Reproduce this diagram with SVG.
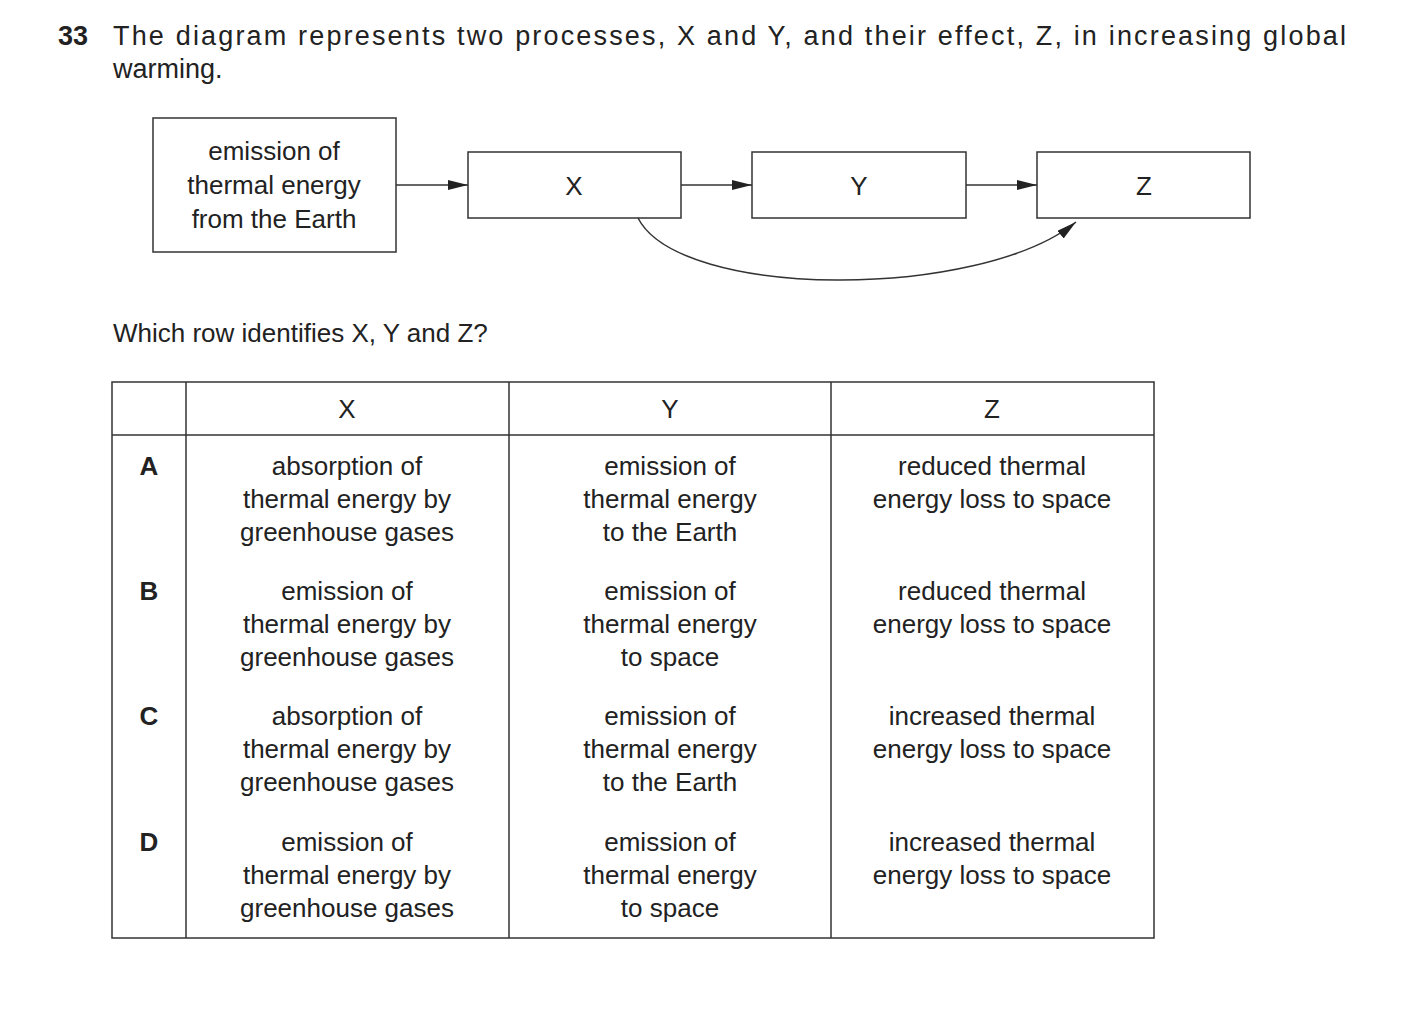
<svg xmlns="http://www.w3.org/2000/svg" width="1403" height="1031" viewBox="0 0 1403 1031">
<style>
text{font-family:"Liberation Sans",Arial,sans-serif;font-size:26px;fill:#222}
.c{text-anchor:middle}
.b{font-weight:bold}
.box{fill:#fff;stroke:#333;stroke-width:1.5}
.ln{stroke:#333;stroke-width:1.5;fill:none}
</style>
<defs><marker id="ah" viewBox="0 0 20 10" refX="20" refY="5" markerWidth="20" markerHeight="10" markerUnits="userSpaceOnUse" orient="auto"><path d="M0,0L20,5L0,10z" fill="#222"/></marker></defs>
<rect width="1403" height="1031" fill="#fff"/>
<text x="58" y="45" class="b" style="font-size:27px">33</text>
<text x="113" y="45" style="font-size:27px" textLength="1233" lengthAdjust="spacing">The diagram represents two processes, X and Y, and their effect, Z, in increasing global</text>
<text x="113" y="78" style="font-size:27px">warming.</text>
<g id="n0"><rect class="box" x="153" y="118" width="243" height="134"/>
<text x="274" y="160" class="c">emission of</text><text x="274" y="194" class="c">thermal energy</text><text x="274" y="228" class="c">from the Earth</text></g>
<g id="nX"><rect class="box" x="468" y="152" width="213" height="66"/><text x="574" y="195" class="c">X</text></g>
<g id="nY"><rect class="box" x="752" y="152" width="214" height="66"/><text x="859" y="195" class="c">Y</text></g>
<g id="nZ"><rect class="box" x="1037" y="152" width="213" height="66"/><text x="1144" y="195" class="c">Z</text></g>
<g id="connectors">
<line class="ln" x1="396" y1="185" x2="468" y2="185" marker-end="url(#ah)"/>
<line class="ln" x1="681" y1="185" x2="752" y2="185" marker-end="url(#ah)"/>
<line class="ln" x1="966" y1="185" x2="1037" y2="185" marker-end="url(#ah)"/>
<path class="ln" d="M638,218 C680,300 980,300 1076,222" marker-end="url(#ah)"/>
</g>
<text x="113" y="342">Which row identifies X, Y and Z?</text>
<g id="table">
<rect class="ln" x="112" y="382" width="1042" height="556"/>
<line class="ln" x1="186" y1="382" x2="186" y2="938"/>
<line class="ln" x1="509" y1="382" x2="509" y2="938"/>
<line class="ln" x1="831" y1="382" x2="831" y2="938"/>
<line class="ln" x1="112" y1="435" x2="1154" y2="435"/>
<text x="347" y="418" class="c">X</text><text x="670" y="418" class="c">Y</text><text x="992" y="418" class="c">Z</text>
<g class="c">
<text x="149" y="475" class="b">A</text>
<text x="347" y="475">absorption of</text><text x="347" y="508">thermal energy by</text><text x="347" y="541">greenhouse gases</text>
<text x="670" y="475">emission of</text><text x="670" y="508">thermal energy</text><text x="670" y="541">to the Earth</text>
<text x="992" y="475">reduced thermal</text><text x="992" y="508">energy loss to space</text>
<text x="149" y="600" class="b">B</text>
<text x="347" y="600">emission of</text><text x="347" y="633">thermal energy by</text><text x="347" y="666">greenhouse gases</text>
<text x="670" y="600">emission of</text><text x="670" y="633">thermal energy</text><text x="670" y="666">to space</text>
<text x="992" y="600">reduced thermal</text><text x="992" y="633">energy loss to space</text>
<text x="149" y="725" class="b">C</text>
<text x="347" y="725">absorption of</text><text x="347" y="758">thermal energy by</text><text x="347" y="791">greenhouse gases</text>
<text x="670" y="725">emission of</text><text x="670" y="758">thermal energy</text><text x="670" y="791">to the Earth</text>
<text x="992" y="725">increased thermal</text><text x="992" y="758">energy loss to space</text>
<text x="149" y="851" class="b">D</text>
<text x="347" y="851">emission of</text><text x="347" y="884">thermal energy by</text><text x="347" y="917">greenhouse gases</text>
<text x="670" y="851">emission of</text><text x="670" y="884">thermal energy</text><text x="670" y="917">to space</text>
<text x="992" y="851">increased thermal</text><text x="992" y="884">energy loss to space</text>
</g></g>
</svg>
